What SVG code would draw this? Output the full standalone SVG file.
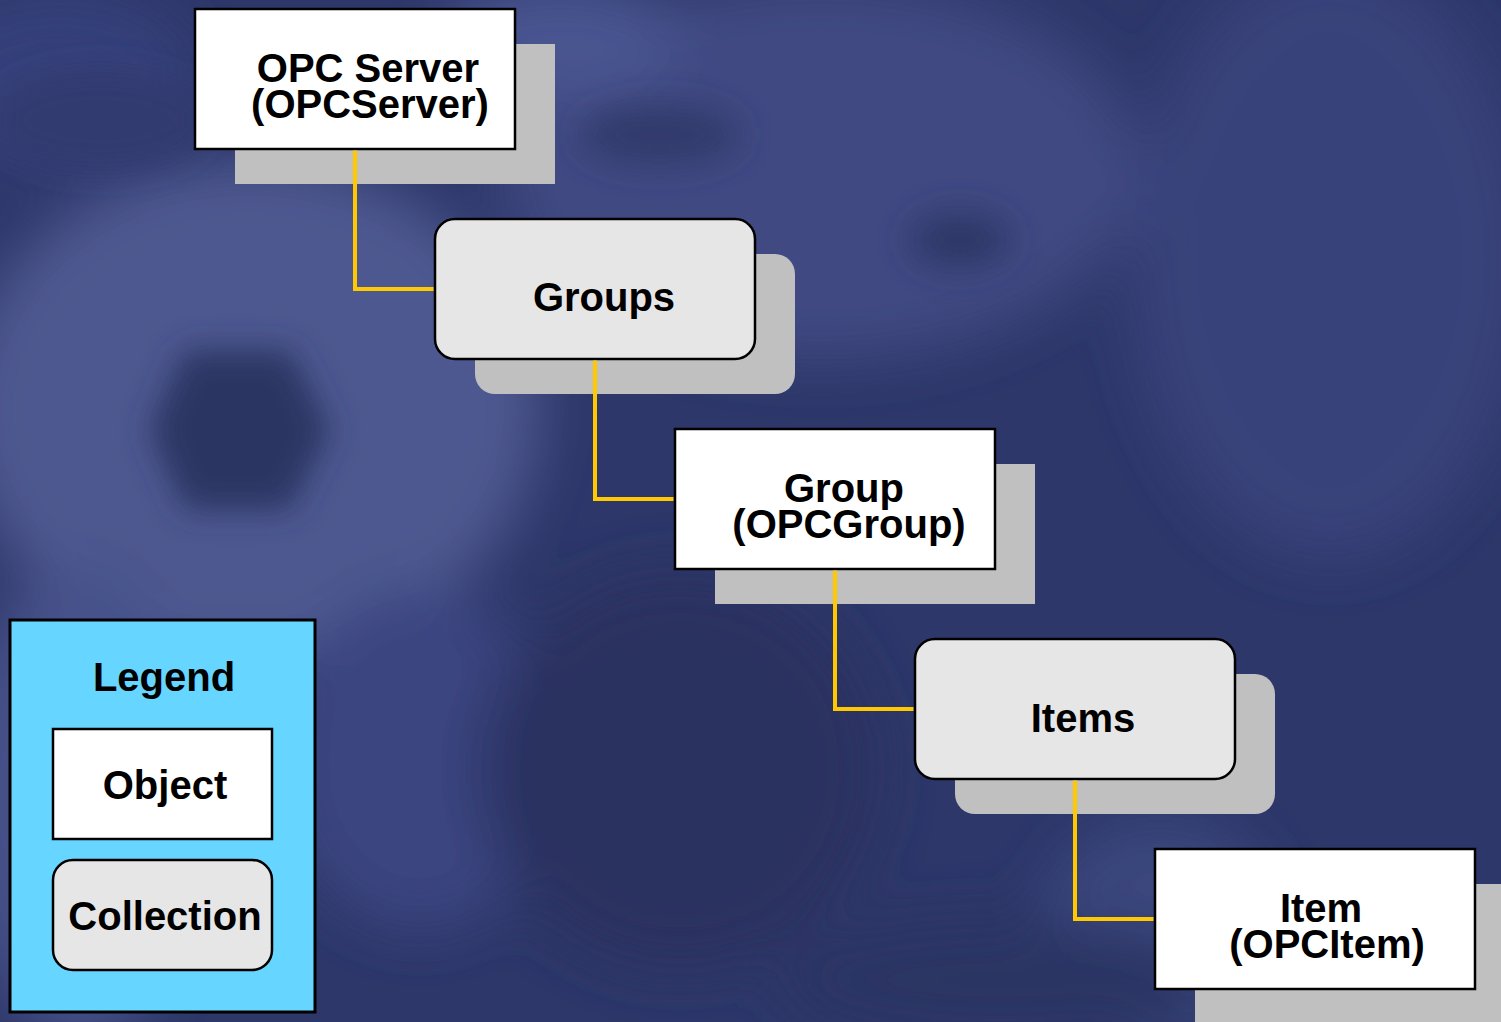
<svg xmlns="http://www.w3.org/2000/svg" width="1501" height="1022" viewBox="0 0 1501 1022">
<defs>
<filter id="blur" x="-20%" y="-20%" width="140%" height="140%"><feGaussianBlur stdDeviation="28"/></filter>
<filter id="blur2" x="-20%" y="-20%" width="140%" height="140%"><feGaussianBlur stdDeviation="16"/></filter>
<style>
.obj{fill:#ffffff;stroke:#000;stroke-width:2.5}
.col{fill:#e6e6e6;stroke:#000;stroke-width:2.5}
.sh{fill:#c0c0c0}
.t{font-family:"Liberation Sans",Arial,sans-serif;font-weight:bold;font-size:40px;fill:#000;text-anchor:middle}
.con{fill:none;stroke:#ffc800;stroke-width:4}
</style>
</defs>
<g id="background">
<rect x="0" y="0" width="1501" height="1022" fill="#2d3769"/>
<g filter="url(#blur)">
<ellipse cx="250" cy="410" rx="290" ry="250" fill="#4d5890"/>
<ellipse cx="820" cy="170" rx="320" ry="190" fill="#3f4a82"/>
<ellipse cx="1330" cy="260" rx="200" ry="300" fill="#38427a"/>
<ellipse cx="80" cy="800" rx="120" ry="240" fill="#46518a"/>
<ellipse cx="420" cy="760" rx="140" ry="170" fill="#3a4580"/>
<ellipse cx="1160" cy="930" rx="120" ry="110" fill="#3b467e"/>
<ellipse cx="1000" cy="980" rx="220" ry="60" fill="#2b3463"/>
<ellipse cx="680" cy="770" rx="200" ry="200" fill="#293261"/>
<ellipse cx="60" cy="80" rx="140" ry="90" fill="#34407a"/>
<ellipse cx="560" cy="40" rx="120" ry="60" fill="#4a5590"/>
</g>
<g filter="url(#blur2)">
<polygon points="185,350 290,350 330,430 290,510 185,510 150,430" fill="#2a3462"/>
<ellipse cx="960" cy="240" rx="50" ry="28" fill="#2e3868"/>
<ellipse cx="660" cy="135" rx="80" ry="30" fill="#303a6c"/>
<ellipse cx="100" cy="120" rx="110" ry="50" fill="#303b6f"/>
</g>
</g>
<g id="node-opcserver">
<rect class="sh" x="235" y="44" width="320" height="140"/>
<rect class="obj" x="195" y="9" width="320" height="140"/>
<text class="t"><tspan x="368" y="82">OPC Server</tspan><tspan x="370" y="118">(OPCServer)</tspan></text>
</g>
<g id="node-groups">
<rect class="sh" x="475" y="254" width="320" height="140" rx="20"/>
<rect class="col" x="435" y="219" width="320" height="140" rx="20"/>
<text class="t" x="604" y="311">Groups</text>
</g>
<g id="node-opcgroup">
<rect class="sh" x="715" y="464" width="320" height="140"/>
<rect class="obj" x="675" y="429" width="320" height="140"/>
<text class="t"><tspan x="844" y="502">Group</tspan><tspan x="849" y="538">(OPCGroup)</tspan></text>
</g>
<g id="node-items">
<rect class="sh" x="955" y="674" width="320" height="140" rx="20"/>
<rect class="col" x="915" y="639" width="320" height="140" rx="20"/>
<text class="t" x="1083" y="732">Items</text>
</g>
<g id="node-opcitem">
<rect class="sh" x="1195" y="884" width="320" height="140"/>
<rect class="obj" x="1155" y="849" width="320" height="140"/>
<text class="t"><tspan x="1321" y="922">Item</tspan><tspan x="1327" y="958">(OPCItem)</tspan></text>
</g>
<g id="connectors">
<polyline class="con" points="355,150.5 355,289 433.5,289"/>
<polyline class="con" points="595,360.5 595,499 673.5,499"/>
<polyline class="con" points="835,570.5 835,709 913.5,709"/>
<polyline class="con" points="1075,780.5 1075,919 1153.5,919"/>
</g>
<g id="legend">
<rect x="10" y="620" width="305" height="392" fill="#66d5ff" stroke="#000" stroke-width="3"/>
<text class="t" x="164" y="691">Legend</text>
<g id="legend-object">
<rect class="obj" x="53" y="729" width="219" height="110"/>
<text class="t" x="165" y="799">Object</text>
</g>
<g id="legend-collection">
<rect class="col" x="53" y="860" width="219" height="110" rx="20"/>
<text class="t" x="165" y="930">Collection</text>
</g>
</g>
</svg>
